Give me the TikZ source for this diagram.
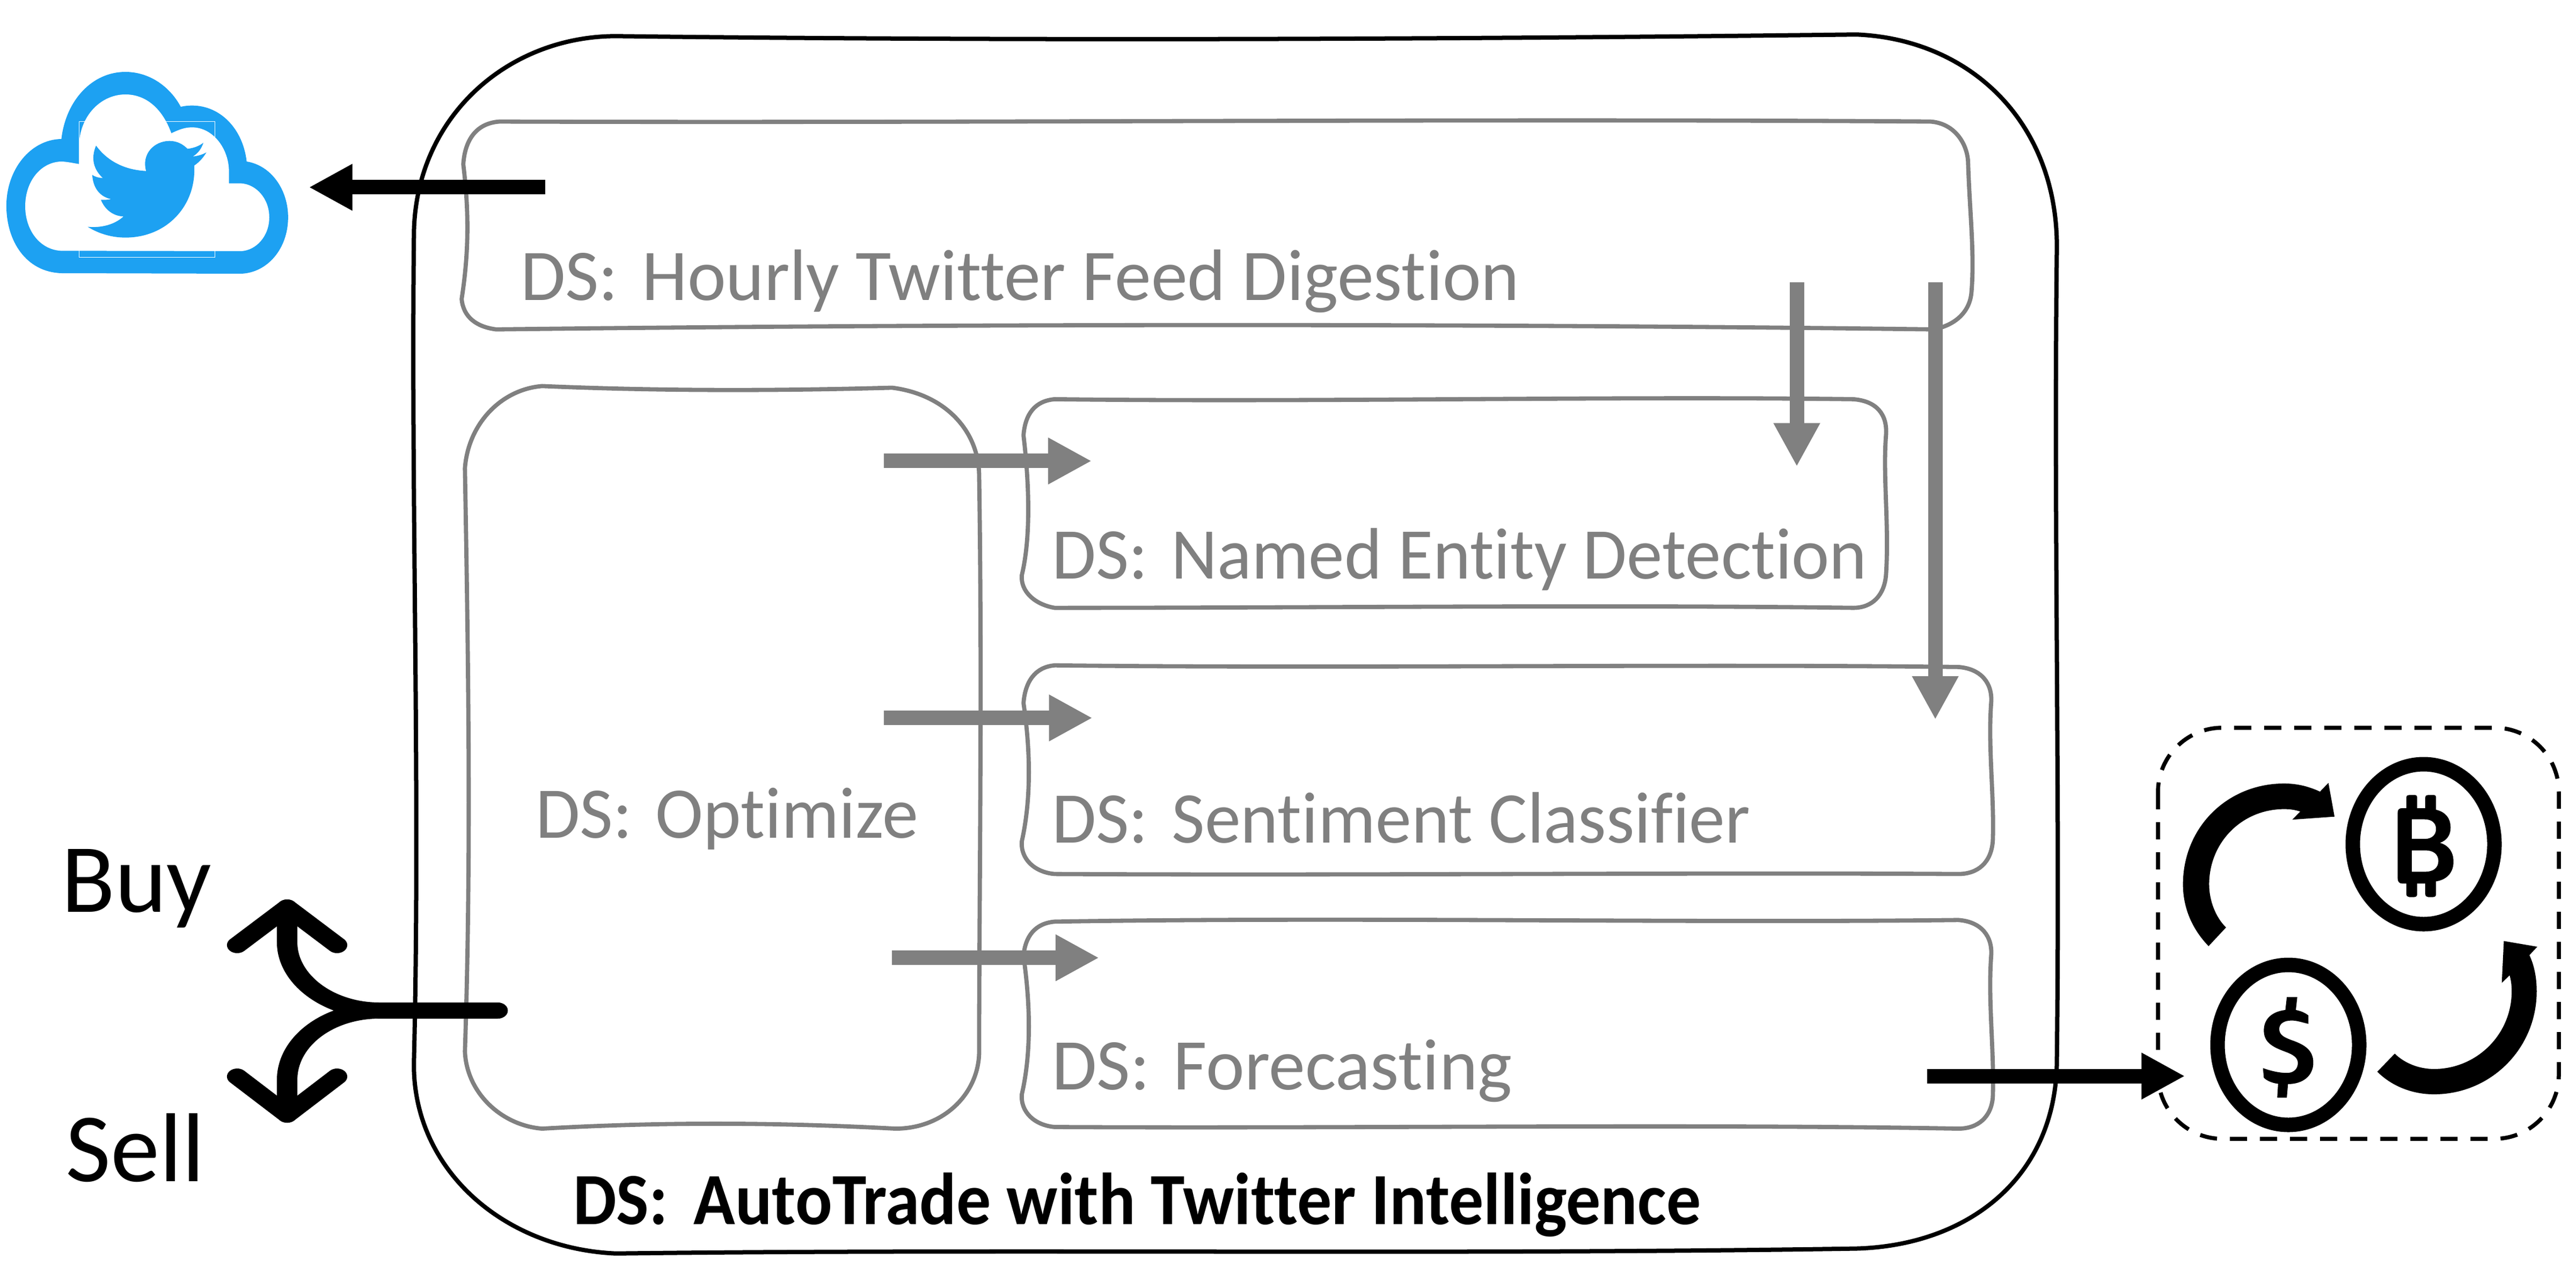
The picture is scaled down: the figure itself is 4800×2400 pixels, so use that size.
\documentclass[tikz,border=0pt]{standalone}
\usepackage{graphicx}
\usepackage{fontspec}
\setmainfont{Carlito}[Ligatures=CommonOff]
\usetikzlibrary{arrows.meta}
\definecolor{tw}{RGB}{29,161,242}
\definecolor{gr}{RGB}{128,128,128}
% #1 total width, #2 cap height, #3 text
\newcommand{\fitw}[3]{\resizebox{#1}{#2}{\vphantom{H}\smash{#3}}}
\tikzset{
  sh/.style={xscale=3.0612,yscale=3.0612},
  grayframe/.style={draw=gr,line width=0.078cm,line join=round},
  blackframe/.style={draw=black,line width=0.08cm,line join=round},
  lab/.style={inner sep=0,outer sep=0,anchor=base west,font=\fontsize{40}{48}\selectfont},
  graylab/.style={lab,text=gr},
  blackarrow/.style={draw=black,line width=0.27cm,-{Triangle[length=0.81cm,width=0.81cm]}},
  grayarrow/.style={draw=gr,line width=0.27cm,-{Triangle[length=0.81cm,width=0.81cm]}},
  fork/.style={draw=black,line width=0.3cm,line cap=round,line join=round},
  coin/.style={draw=black,line width=0.27cm}
}
\begin{document}
\begin{tikzpicture}[x=0.01cm,y=-0.01cm]
\useasboundingbox (0,0) rectangle (4800,2400);
% outer frame
\begin{scope}[sh]
\draw[blackframe] (252,140) .. controls (254,70) and (310,22) .. (375,22)
  .. controls (620,25) and (880,24) .. (1130,21)
  .. controls (1200,24) and (1252,75) .. (1252,150)
  .. controls (1250,320) and (1254,480) .. (1252,645)
  .. controls (1252,715) and (1200,758) .. (1130,760)
  .. controls (880,764) and (620,760) .. (375,763)
  .. controls (305,760) and (250,710) .. (252,645)
  .. controls (256,480) and (250,300) .. (252,140) -- cycle;
% gray frames
\draw[grayframe] (304,74) .. controls (600,75) and (900,72) .. (1175,74)
  .. controls (1190,75) and (1198,88) .. (1198,100)
  .. controls (1199,130) and (1202,155) .. (1200,178)
  .. controls (1199,190) and (1190,198) .. (1177,200.5)
  .. controls (900,197) and (600,197) .. (302,200.5)
  .. controls (290,199) and (282,193) .. (281,182)
  .. controls (286,150) and (285,125) .. (282,100)
  .. controls (283,85) and (290,75) .. (304,74) -- cycle;
\draw[grayframe] (330,235) .. controls (400,238) and (470,238) .. (543,236)
  .. controls (575,240) and (596,262) .. (596,290)
  .. controls (598,420) and (596,540) .. (596,640)
  .. controls (596,665) and (575,687) .. (545,687)
  .. controls (470,683) and (400,683) .. (330,687)
  .. controls (305,685) and (284,665) .. (283,640)
  .. controls (287,520) and (285,400) .. (283,285)
  .. controls (285,258) and (305,237) .. (330,235) -- cycle;
\draw[grayframe] (642,243) .. controls (800,245) and (980,241) .. (1128,243)
  .. controls (1142,244) and (1149,252) .. (1148,265)
  .. controls (1146,290) and (1150,320) .. (1148,350)
  .. controls (1147,362) and (1140,370) .. (1128,370)
  .. controls (980,368) and (800,370) .. (642,370)
  .. controls (630,368) and (621,360) .. (622,350)
  .. controls (628,325) and (626,290) .. (623,265)
  .. controls (624,252) and (630,244) .. (642,243) -- cycle;
\draw[grayframe] (642,405) .. controls (820,407) and (1030,404) .. (1192,406)
  .. controls (1206,407) and (1213,416) .. (1212,428)
  .. controls (1210,455) and (1214,485) .. (1213,512)
  .. controls (1212,525) and (1204,532) .. (1192,532)
  .. controls (1030,531) and (820,533) .. (642,532)
  .. controls (630,531) and (621,523) .. (622,512)
  .. controls (628,485) and (627,455) .. (623,428)
  .. controls (624,415) and (630,406) .. (642,405) -- cycle;
\draw[grayframe] (642,561) .. controls (820,558) and (1030,562) .. (1192,560)
  .. controls (1206,561) and (1213,570) .. (1212,582)
  .. controls (1210,610) and (1214,640) .. (1213,668)
  .. controls (1212,680) and (1204,687) .. (1192,687)
  .. controls (1030,684) and (820,687) .. (642,686)
  .. controls (630,685) and (621,677) .. (622,666)
  .. controls (628,640) and (627,610) .. (623,582)
  .. controls (624,570) and (630,562) .. (642,561) -- cycle;
\coordinate (oa) at (538,280.6); \coordinate (ob) at (664.5,280.6);
\coordinate (oc) at (538,437); \coordinate (od) at (665,437);
\coordinate (oe) at (543,583); \coordinate (of) at (669,583);
\coordinate (ha) at (1093.7,171.8); \coordinate (hb) at (1093.7,284);
\coordinate (hc) at (1178,171.8); \coordinate (hd) at (1178,438);
\coordinate (ta) at (332,114); \coordinate (tb) at (188,114);
\coordinate (fa) at (1173,655); \coordinate (fb) at (1330,655);
\end{scope}
\draw[grayarrow] (oa) -- (ob);
\draw[grayarrow] (oc) -- (od);
\draw[grayarrow] (oe) -- (of);
\draw[grayarrow] (ha) -- (hb);
\draw[grayarrow] (hc) -- (hd);
% labels
\node[graylab] (lh) at (970,559) {\fitw{18.60cm}{0.87cm}{DS:\hspace{0.1em} Hourly Twitter Feed Digestion}};
\node[graylab] (ln) at (1960,1078) {\fitw{15.18cm}{0.87cm}{DS:\hspace{0.1em} Named Entity Detection}};
\node[graylab] (ls) at (1960,1570) {\fitw{13.01cm}{0.87cm}{DS:\hspace{0.1em} Sentiment Classifier}};
\node[graylab] (lf) at (1960,2030) {\fitw{8.57cm}{0.87cm}{DS:\hspace{0.1em} Forecasting}};
\node[graylab] (lo) at (998,1561) {\fitw{7.13cm}{0.87cm}{DS:\hspace{0.1em} Optimize}};
\node[lab] (la) at (1068,2281) {\fitw{21.00cm}{0.88cm}{\bfseries DS:\hspace{0.15em} AutoTrade with Twitter Intelligence}};
\node[lab] (lb) at (114,1699) {\fitw{2.80cm}{1.17cm}{Buy}};
\node[lab] (lz) at (122,2201) {\fitw{2.59cm}{1.17cm}{Sell}};
% cloud
\begin{scope}[shift={(0,100)},xscale=0.70175,yscale=0.33333]
\fill[tw] (162,1227) .. controls (70,1220) and (17,1050) .. (17,850)
  .. controls (17,650) and (80,480) .. (163,477)
  .. controls (175,260) and (245,102) .. (333,102)
  .. controls (395,102) and (450,180) .. (480,297)
  .. controls (490,292) and (500,290) .. (510,290)
  .. controls (585,290) and (645,420) .. (655,603)
  .. controls (720,625) and (765,760) .. (765,915)
  .. controls (765,1090) and (710,1225) .. (640,1230) -- cycle;
\fill[white] (162,1102) .. controls (105,1095) and (67,985) .. (67,853)
  .. controls (67,710) and (110,603) .. (165,603)
  .. controls (180,605) and (195,612) .. (210,617)
  -- (210,500) .. controls (215,340) and (270,228) .. (333,228)
  .. controls (385,228) and (430,300) .. (455,445)
  .. controls (475,425) and (490,412) .. (510,412)
  .. controls (565,412) and (608,530) .. (608,660)
  -- (608,725) -- (640,725)
  .. controls (680,730) and (715,810) .. (715,915)
  .. controls (715,1020) and (680,1100) .. (640,1104) -- cycle;
\fill[tw] (540,498) .. controls (530,515) and (515,528) .. (498,532)
  .. controls (485,505) and (470,488) .. (450,488)
  .. controls (410,488) and (375,560) .. (388,656)
  .. controls (330,650) and (285,600) .. (255,514)
  .. controls (240,590) and (250,650) .. (273,695)
  .. controls (262,695) and (252,688) .. (245,678)
  .. controls (247,750) and (265,800) .. (295,813)
  .. controls (285,818) and (275,818) .. (268,817)
  .. controls (278,870) and (300,908) .. (328,910)
  .. controls (305,955) and (270,975) .. (233,968)
  .. controls (265,1010) and (300,1028) .. (333,1028)
  .. controls (440,1028) and (516,860) .. (516,650)
  -- (516,625) .. controls (530,605) and (540,580) .. (548,552)
  .. controls (537,565) and (525,572) .. (512,575)
  .. controls (527,555) and (535,530) .. (540,498) -- cycle;
\draw[white,line width=0.012cm] (210,380) rectangle (571,1138);
\end{scope}
% black arrows and fork
\draw[blackarrow] (ta) -- (tb);
\begin{scope}[transform canvas={xscale=1.27}]
\coordinate (fk) at (730,1883);
\coordinate (bt) at (421.3,1691);
\coordinate (st) at (421.3,2077);
\draw[fork] (fk) -- (556.7,1883) .. controls (482,1883) and (421.3,1825) .. (421.3,1756) -- (bt);
\draw[fork] (348,1761) -- (bt) -- (494.5,1761);
\draw[fork] (fk) -- (556.7,1883) .. controls (482,1883) and (421.3,1940) .. (421.3,2012) -- (st);
\draw[fork] (348,2006) -- (st) -- (494.5,2006);
\end{scope}
% right panel
\draw[draw=black,line width=0.075cm,dash pattern=on 0.32cm off 0.24cm,rounded corners=1.2cm] (4021,1356) rectangle (4768,2122);
\draw[coin] (4516,1573) ellipse [x radius=132,y radius=149];
\draw[coin] (4264,1947) ellipse [x radius=132,y radius=149];
\begin{scope}[shift={(3950,1300)},xscale=0.54201,yscale=0.56117]
\fill[black] (305,825) .. controls (250,770) and (217,700) .. (217,620)
  .. controls (217,430) and (370,285) .. (565,285)
  .. controls (610,285) and (650,295) .. (688,312) -- (717,283) -- (738,395) -- (593,405) -- (620,378)
  .. controls (600,372) and (585,370) .. (565,370)
  .. controls (420,370) and (307,480) .. (307,620)
  .. controls (307,675) and (330,730) .. (365,763) -- cycle;
\fill[black] (885,1242) -- (945,1182) .. controls (980,1215) and (1030,1233) .. (1080,1233)
  .. controls (1225,1233) and (1347,1120) .. (1347,975)
  .. controls (1347,955) and (1345,940) .. (1340,922) -- (1313,947) -- (1320,808) -- (1435,827) -- (1408,855)
  .. controls (1425,890) and (1433,930) .. (1433,975)
  .. controls (1433,1165) and (1275,1317) .. (1080,1317)
  .. controls (1005,1317) and (935,1290) .. (885,1242) -- cycle;
% bitcoin sign
\fill[black,even odd rule] (985,367) -- (985,332) .. controls (985,325) and (990,323) .. (995,323) -- (1012,323) .. controls (1018,323) and (1022,325) .. (1022,332) -- (1022,367) -- (1050,367) -- (1050,332) .. controls (1050,325) and (1055,323) .. (1060,323) -- (1077,323) .. controls (1083,323) and (1087,325) .. (1087,332) -- (1087,372)
  .. controls (1120,380) and (1137,400) .. (1137,432)
  .. controls (1137,458) and (1122,475) .. (1100,482)
  .. controls (1130,490) and (1147,512) .. (1147,545)
  .. controls (1147,582) and (1122,605) .. (1087,610)
  -- (1087,652) .. controls (1087,659) and (1083,662) .. (1077,662) -- (1060,662) .. controls (1055,662) and (1050,659) .. (1050,652) -- (1050,617) -- (1022,617) -- (1022,652) .. controls (1022,659) and (1018,662) .. (1012,662) -- (995,662) .. controls (990,662) and (985,659) .. (985,652) -- (985,617) -- (970,617) .. controls (960,617) and (955,610) .. (955,600) -- (955,382) .. controls (955,372) and (960,367) .. (970,367) -- cycle
  (1004,404) -- (1048,404) .. controls (1072,404) and (1087,416) .. (1087,436) .. controls (1087,456) and (1072,469) .. (1048,469) -- (1004,469) -- cycle
  (1004,507) -- (1050,507) .. controls (1078,507) and (1095,520) .. (1095,542) .. controls (1095,565) and (1078,578) .. (1050,578) -- (1004,578) -- cycle;
% dollar sign
\fill[black] (648,1055) -- (648,1083) .. controls (625,1078) and (610,1072) .. (590,1072)
  .. controls (565,1072) and (548,1082) .. (548,1100)
  .. controls (548,1120) and (565,1128) .. (590,1137)
  .. controls (635,1152) and (665,1170) .. (665,1212)
  .. controls (665,1255) and (630,1283) .. (578,1283)
  -- (574,1328) -- (541,1328) -- (544,1282)
  .. controls (525,1280) and (505,1272) .. (495,1262) -- (492,1230)
  .. controls (515,1238) and (545,1246) .. (575,1246)
  .. controls (598,1246) and (612,1232) .. (612,1213)
  .. controls (612,1195) and (595,1185) .. (570,1176)
  .. controls (525,1160) and (495,1145) .. (495,1105)
  .. controls (495,1065) and (525,1042) .. (569,1037)
  -- (574,994) -- (610,994) -- (605,1037)
  .. controls (620,1040) and (635,1045) .. (648,1055) -- cycle;
\end{scope}
\draw[blackarrow] (fa) -- (fb);
\end{tikzpicture}
\end{document}
